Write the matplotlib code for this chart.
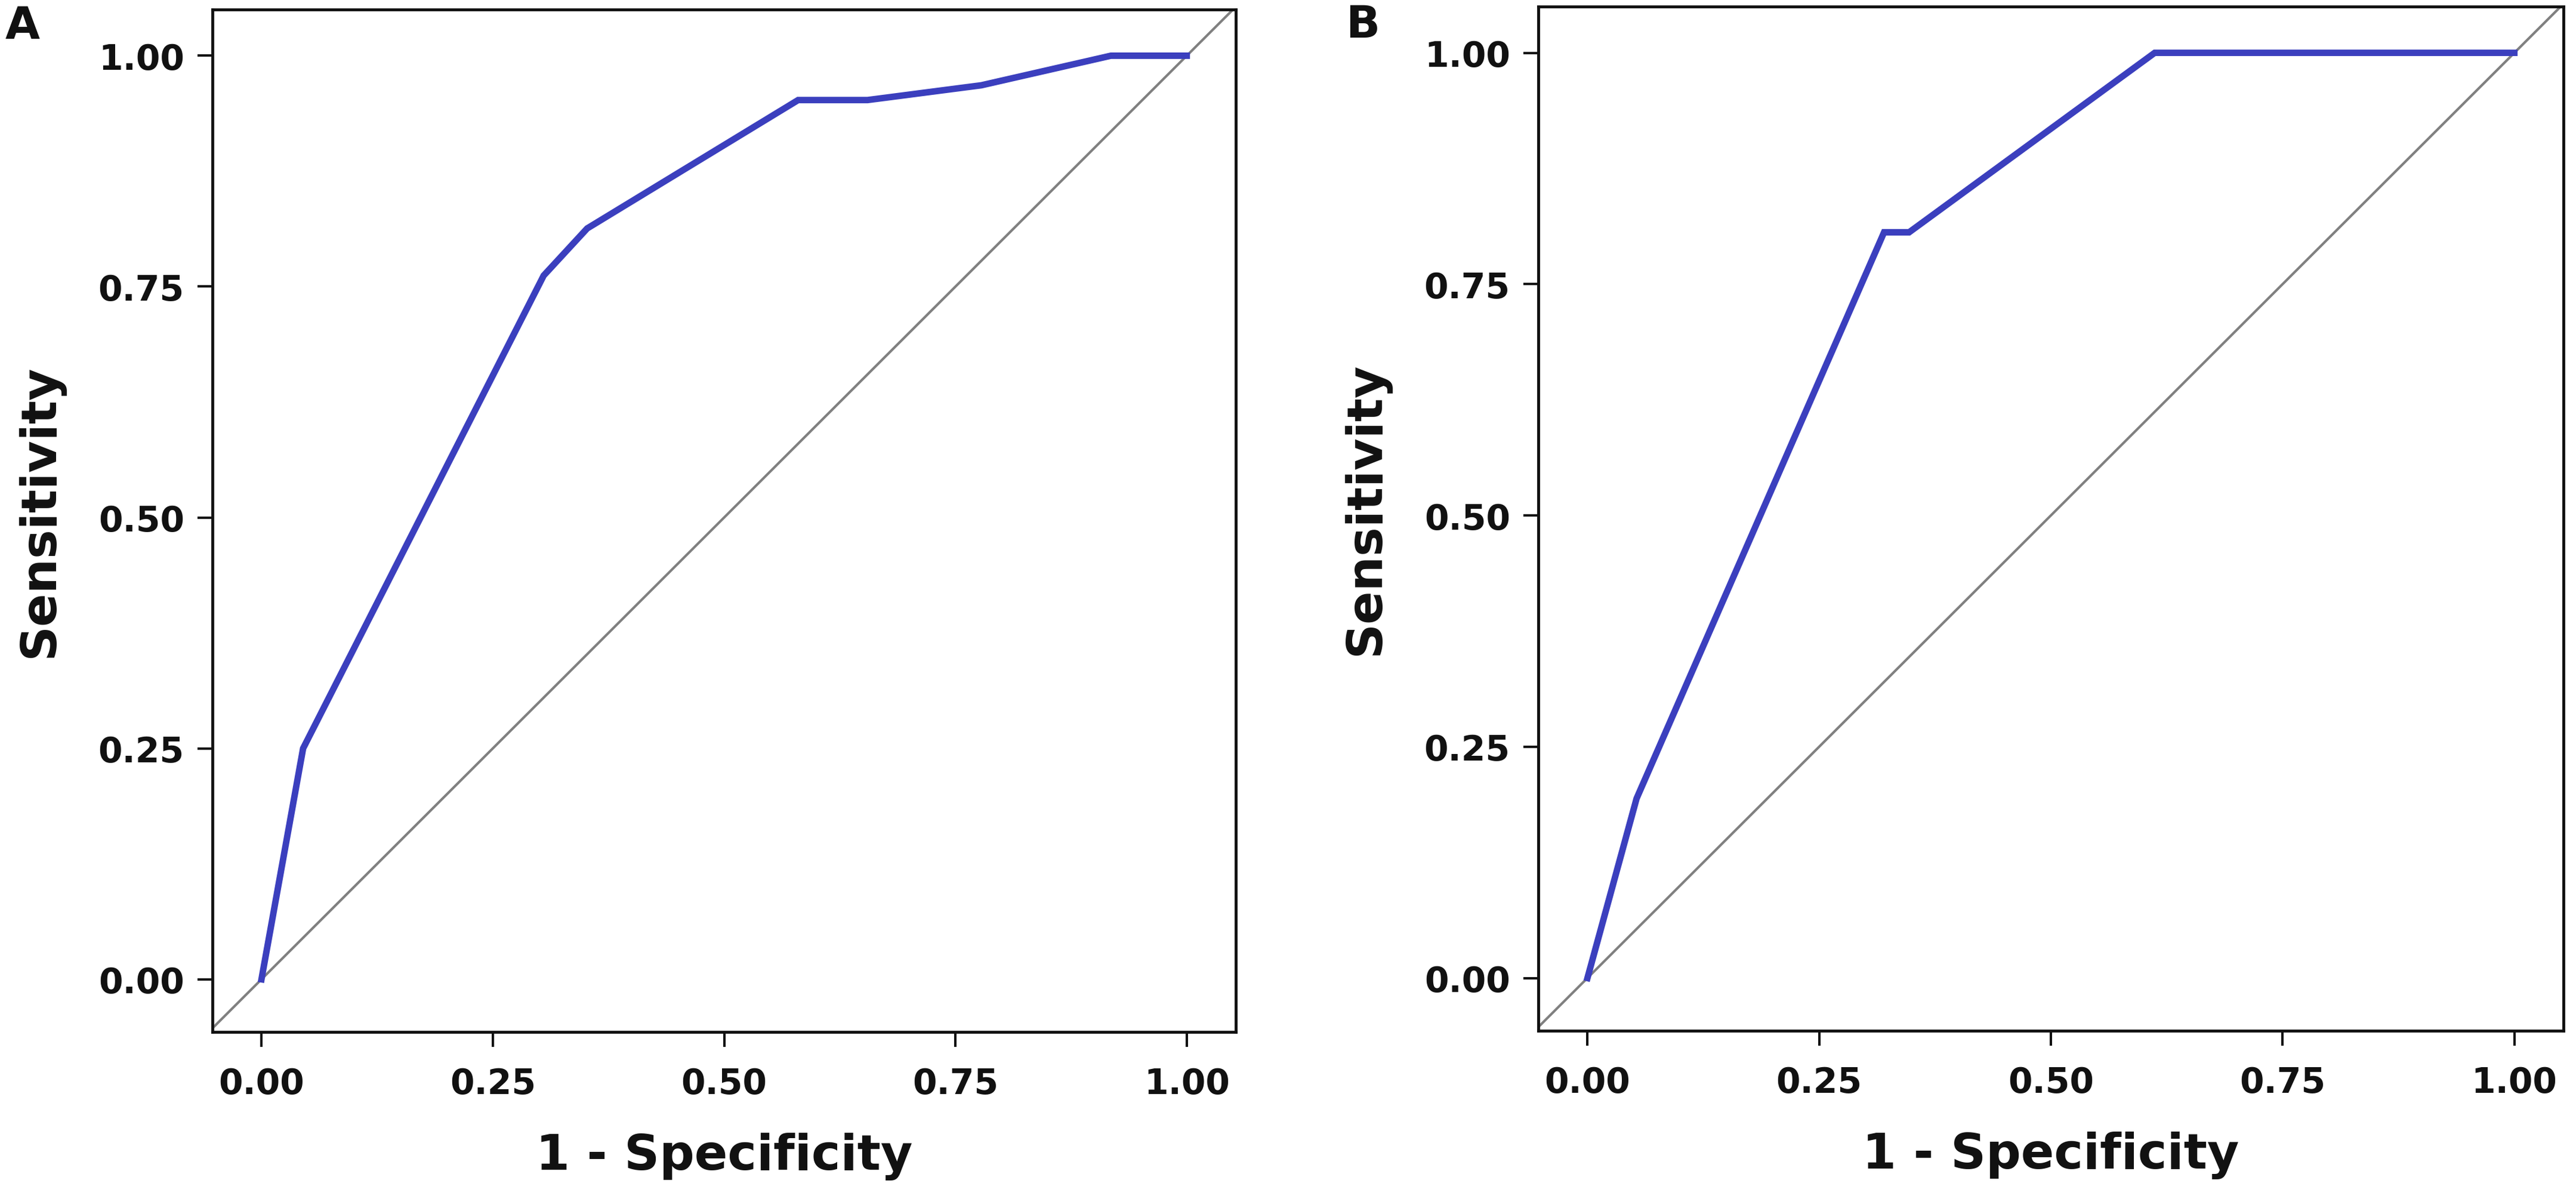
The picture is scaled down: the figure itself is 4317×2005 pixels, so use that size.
import matplotlib
matplotlib.use("Agg")
import matplotlib.pyplot as plt

# ---- data ----
a_fpr = [0.0, 0.045, 0.305, 0.352, 0.580, 0.655, 0.778, 0.918, 1.0]
a_tpr = [0.0, 0.250, 0.762, 0.813, 0.952, 0.952, 0.968, 1.000, 1.0]
b_fpr = [0.0, 0.053, 0.320, 0.347, 0.612, 1.0]
b_tpr = [0.0, 0.194, 0.806, 0.806, 1.000, 1.0]
ticks = [0.0, 0.25, 0.5, 0.75, 1.0]
tick_labels = ["0.00", "0.25", "0.50", "0.75", "1.00"]
panels = ["A", "B"]

plt.rcParams['font.family'] = ['DejaVu Sans']
plt.rcParams['font.weight'] = 'bold'

W, H = 4317, 2006
dpi = 100
fig = plt.figure(figsize=(W / dpi, H / dpi), dpi=dpi)

axes_px = [(356, 17, 2071, 1731), (2578, 12, 4296, 1729)]
curves = [(a_fpr, a_tpr), (b_fpr, b_tpr)]
letter_px = [(9, 65), (2255, 63)]

for (l, t, r, b), (fx, ty), name, (lx, ly) in zip(axes_px, curves, panels, letter_px):
    ax = fig.add_axes([l / W, 1 - b / H, (r - l) / W, (b - t) / H])
    ax.set_xlim(-0.053, 1.053)
    ax.set_ylim(-0.057, 1.05)
    ax.axline((0, 0), (1, 1), color='#808080', lw=3.0, zorder=2)
    ax.plot(fx, ty, color='#3b3fbe', lw=7.8, solid_joinstyle='miter', zorder=3)
    ax.set_xticks(ticks)
    ax.set_xticklabels(tick_labels)
    ax.set_yticks(ticks)
    ax.set_yticklabels(tick_labels)
    for s in ax.spines.values():
        s.set_linewidth(3.5)
        s.set_color('#111111')
    ax.tick_params(axis='x', direction='out', length=18, width=2.9, pad=24,
                   labelsize=42, colors='#111111')
    ax.tick_params(axis='y', direction='out', length=18, width=2.9, pad=16,
                   labelsize=42, colors='#111111')
    for lab in ax.get_xticklabels() + ax.get_yticklabels():
        lab.set_fontweight('bold')
    ax.set_xlabel("1 - Specificity", fontsize=59, fontweight='bold', color='#111111')
    ax.xaxis.set_label_coords(0.5, -0.098)
    ax.set_ylabel("Sensitivity", fontsize=59, fontweight='bold', color='#111111')
    ax.yaxis.set_label_coords(-0.145, 0.51)
    fig.text(lx / W, 1 - ly / H, name, fontsize=54, fontweight='bold',
             ha='left', va='baseline', color='#111111')

fig.savefig("out.png", dpi=dpi, facecolor='white')
